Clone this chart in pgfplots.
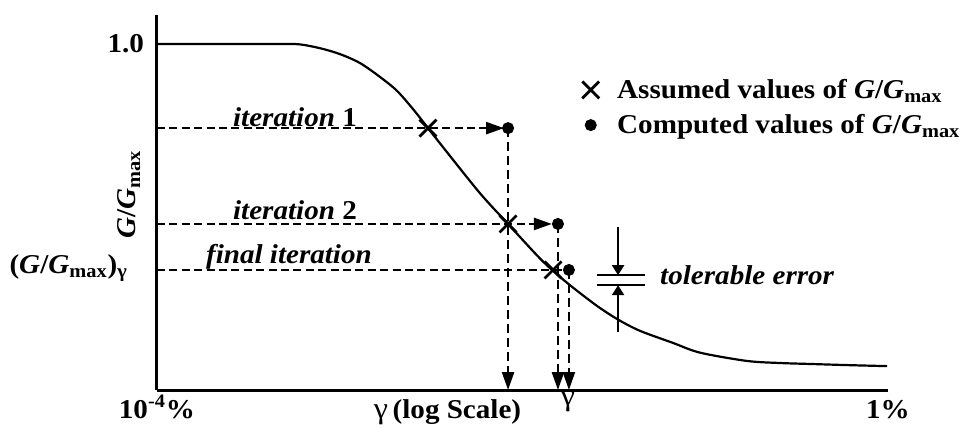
\documentclass[border=0pt]{standalone}
\usepackage{pgfplots}
\pgfplotsset{compat=1.18}
\usepackage{fontspec}
\setmainfont{Liberation Serif}[FakeStretch=1.07]
\usetikzlibrary{arrows.meta}
\newcommand{\fs}{\fontsize{13.6}{15}\selectfont\bfseries}
\begin{document}
\begin{tikzpicture}[font=\fs]
\begin{axis}[
  scale only axis, width=365.5pt, height=187.5pt,
  xmin=-4, xmax=0, ymin=0, ymax=1.084,
  axis x line=bottom, axis y line=left,
  axis line style={-, line width=1.5pt},
  xtick={-4,0}, xticklabels={10\textsuperscript{-4}\%, 1\%},
  ytick={0.347,1},
  yticklabels={\raisebox{6pt}{(\textit{G}/\textit{G}\textsubscript{max})\textsubscript{γ}}\kern11pt, 1.0\kern3pt},
  major tick length=0pt,
  tick label style={font=\fs},
  xticklabel style={anchor=base, yshift=-14pt},
  clip=false,
  legend style={draw=none, fill=none, at={(rel axis cs:0.573,0.852)}, anchor=north west,
    row sep=2.5pt, font=\fs},
  legend cell align=left,
]
% G/Gmax curve
\addplot[smooth, line width=1.1pt, forget plot] coordinates {
(-4,1.0) (-3.327,1.0) (-3.218,0.999) (-3.108,0.988) (-2.999,0.971) (-2.889,0.945)
(-2.780,0.905) (-2.687,0.865) (-2.599,0.812) (-2.517,0.757) (-2.435,0.702)
(-2.233,0.569) (-2.079,0.480) (-1.904,0.380) (-1.795,0.327) (-1.685,0.280)
(-1.576,0.237) (-1.472,0.202) (-1.357,0.171) (-1.176,0.136) (-1.029,0.108)
(-0.772,0.084) (-0.591,0.078) (-0.410,0.075) (-0.224,0.072) (-0.005,0.069)};
% horizontal dashed lines
\addplot[line width=1.2pt, dash pattern=on 4pt off 2.2pt, -{Triangle[length=9pt,width=6pt]}, forget plot]
  coordinates {(-4,0.757) (-2.101,0.757)};
\addplot[line width=1.2pt, dash pattern=on 4pt off 2.2pt, -{Triangle[length=9pt,width=6pt]}, forget plot]
  coordinates {(-4,0.480) (-1.839,0.480)};
\addplot[line width=1.2pt, dash pattern=on 4pt off 2.2pt, forget plot]
  coordinates {(-4,0.347) (-1.77,0.347)};
% vertical dashed lines
\addplot[line width=1.2pt, dash pattern=on 4.5pt off 2.5pt, -{Triangle[length=9pt,width=6pt]}, forget plot]
  coordinates {(-2.079,0.757) (-2.079,0)};
\addplot[line width=1.2pt, dash pattern=on 4.5pt off 2.5pt, -{Triangle[length=9pt,width=6pt]}, forget plot]
  coordinates {(-1.806,0.480) (-1.806,0)};
\addplot[line width=1.2pt, dash pattern=on 4.5pt off 2.5pt, -{Triangle[length=9pt,width=6pt]}, forget plot]
  coordinates {(-1.746,0.347) (-1.746,0)};
% tolerable error
\addplot[line width=1.1pt, -{Triangle[length=5pt,width=6pt]}, forget plot]
  coordinates {(-1.477,0.471) (-1.477,0.332)};
\addplot[line width=1.1pt, -{Triangle[length=5pt,width=6pt]}, forget plot]
  coordinates {(-1.477,0.168) (-1.477,0.303)};
\addplot[line width=1.1pt, forget plot] coordinates {(-1.592,0.332) (-1.330,0.332)};
\addplot[line width=1.1pt, forget plot] coordinates {(-1.592,0.303) (-1.330,0.303)};
% points
\addplot[only marks, mark=x, mark size=6pt, line width=1.4pt]
  coordinates {(-2.517,0.757) (-2.079,0.480) (-1.833,0.347)};
\addlegendentry{\kern7pt Assumed values of \textit{G}/\textit{G}\textsubscript{max}}
\addplot[only marks, mark=*, mark size=2.8pt]
  coordinates {(-2.079,0.757) (-1.806,0.480) (-1.746,0.347)};
\addlegendentry{\kern7pt Computed values of \textit{G}/\textit{G}\textsubscript{max}}
% labels
\node at (axis cs:-3.245,0.789) {\textit{iteration} 1};
\node at (axis cs:-3.245,0.520) {\textit{iteration} 2};
\node at (axis cs:-3.278,0.384) {\textit{final iteration}};
\node[anchor=west] at (axis cs:-1.285,0.332) {\textit{tolerable error}};
\node[rotate=90] at (axis cs:-4.153,0.566) {\textit{G}/\textit{G}\textsubscript{max}};
\node[anchor=base, yshift=-14pt] at (axis cs:-2.41,0) {{\mdseries\fontsize{15}{16}\selectfont γ}\,(log Scale)};
\node[anchor=north, inner sep=0.5pt, font=\fontsize{15}{16}\selectfont\mdseries] at (axis cs:-1.751,0) {γ};
\end{axis}
\pgfresetboundingbox
\path[use as bounding box] (-78.5pt,-19pt) rectangle (402.5pt,195pt);
\end{tikzpicture}
\end{document}
